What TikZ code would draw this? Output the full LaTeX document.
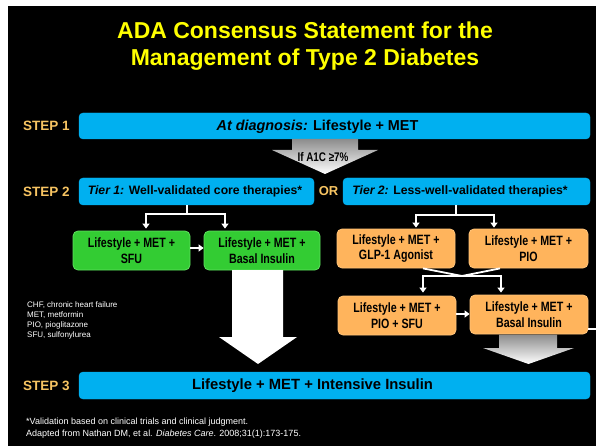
\documentclass[tikz,border=0pt]{standalone}
\usepackage{fontspec}
\setmainfont{Liberation Sans}
\newfontfamily\narrowfont{Liberation Sans}[FakeStretch=0.79]
\usetikzlibrary{arrows.meta,calc}
\definecolor{cyanbar}{HTML}{00B0F0}
\definecolor{greenbox}{HTML}{33CC33}
\definecolor{greenedge}{HTML}{5FE05F}
\definecolor{orangebox}{HTML}{FFB45C}
\definecolor{orangeedge}{HTML}{FFC47A}
\definecolor{steplabel}{HTML}{F7C462}
\definecolor{titleyellow}{HTML}{FFFF00}
\begin{document}
\begin{tikzpicture}[x=1pt,y=-1pt,
  bar/.style={fill=cyanbar,draw=cyanbar,rounded corners=4pt,inner sep=0pt,text=black,font=\bfseries},
  bartext/.style={inner sep=0pt,text=black},
  gbox/.style={fill=greenbox,draw=greenedge,line width=0.8pt,rounded corners=5pt,inner sep=0pt,
     minimum width=116pt,minimum height=39pt,align=center,font=\narrowfont\fontsize{13.5}{15.5}\selectfont\bfseries,text=black},
  obox/.style={fill=orangebox,draw=orangeedge,line width=0.8pt,rounded corners=5pt,inner sep=0pt,
     minimum width=118pt,minimum height=39pt,align=center,font=\narrowfont\fontsize{13.5}{15.5}\selectfont\bfseries,text=black},
  steplbl/.style={anchor=west,text=steplabel,font=\fontsize{13.5}{16}\selectfont\bfseries,inner sep=0pt},
  wline/.style={draw=white,line width=1.8pt},
  warr/.style={draw=white,line width=1.8pt,-{Triangle[width=7pt,length=5pt]}},
  greyarrow/.style={top color=black!45,bottom color=white,draw=none}
]
\useasboundingbox (0,0) rectangle (596,446);
\fill[white] (0,0) rectangle (596,446);
\fill[black] (8,6) rectangle (596,446);

% title
\node[text=titleyellow,align=center,font=\fontsize{23}{27}\selectfont\bfseries] (title) at (305,46)
  {ADA Consensus Statement for the\\Management of Type 2 Diabetes};

% step labels
\node[steplbl] (s1) at (23,126) {STEP 1};
\node[steplbl] (s2) at (23,192) {STEP 2};
\node[steplbl] (s3) at (23,386) {STEP 3};

% bars
\node[bar,minimum width=511pt,minimum height=26pt] (step1) at (334.5,126) {};
\node[bartext,font=\fontsize{14.4}{17}\selectfont\bfseries] (step1txt) at (317.5,126.5)
  {\textit{At diagnosis:} Lifestyle + MET};
\node[bar,minimum width=235pt,minimum height=27pt] (tier1) at (196.5,191.5) {};
\node[bartext,font=\fontsize{12.2}{14}\selectfont\bfseries] (tier1txt) at (195,191.5)
  {\textit{Tier 1:} Well-validated core therapies*};
\node[bar,minimum width=247pt,minimum height=27pt] (tier2) at (466.5,191.5) {};
\node[bartext,font=\fontsize{12.2}{14}\selectfont\bfseries] (tier2txt) at (460,191.5)
  {\textit{Tier 2:} Less-well-validated therapies*};
\node[text=steplabel,font=\fontsize{13}{15}\selectfont\bfseries,inner sep=0pt] (or) at (328.5,191) {OR};
\node[bar,minimum width=511pt,minimum height=27pt] (step3) at (334.5,385.5) {};
\node[bartext,font=\fontsize{14.8}{17}\selectfont\bfseries] (step3txt) at (312.5,386)
  {Lifestyle + MET + Intensive Insulin};

% grey arrow after step 1
\path[greyarrow] (292,139) -- (358,139) -- (358,150) -- (378,150) -- (325,174) -- (272,150) -- (292,150) -- cycle;
\node[font=\narrowfont\fontsize{12.5}{13}\selectfont\bfseries,text=black,inner sep=0pt] (a1c) at (323,157) {If A1C ≥7\%};

% green boxes
\node[gbox,minimum width=117pt] (g1) at (131.5,250.5) {Lifestyle + MET +\\SFU};
\node[gbox] (g2) at (262,250.5) {Lifestyle + MET +\\Basal Insulin};

% orange boxes
\node[obox] (o1) at (396,248.5) {Lifestyle + MET +\\GLP-1 Agonist};
\node[obox,minimum width=119pt] (o2) at (528.5,248.5) {Lifestyle + MET +\\PIO};
\node[obox] (o3) at (397,315.5) {Lifestyle + MET +\\PIO + SFU};
\node[obox] (o4) at (529,314.5) {Lifestyle + MET +\\Basal Insulin};

% tier 1 connectors
\coordinate (t1j) at (187,214);
\draw[wline] (tier1.south -| t1j) -- (t1j);
\draw[warr,shorten >=2pt] (t1j) -| ([xshift=14.5pt]g1.north);
\draw[warr,shorten >=2pt] (t1j) -| ([xshift=-37pt]g2.north);
\draw[warr] (g1.east |- 0,248) -- (g2.west |- 0,248);

% tier 2 connectors
\coordinate (t2j) at (456,215);
\draw[wline] (tier2.south -| t2j) -- (t2j);
\draw[warr,shorten >=1pt] (t2j) -| ([xshift=20pt]o1.north);
\draw[warr,shorten >=1pt] (t2j) -| ([xshift=-34.5pt]o2.north);

% crossing connectors
\coordinate (mid) at (462,276);
\draw[wline] ([xshift=27pt]o1.south) -- (mid);
\draw[wline] ([xshift=-28.5pt]o2.south) -- (mid);
\draw[warr,shorten >=3pt] (mid) -| ([xshift=26pt]o3.north);
\draw[warr,shorten >=2pt] (mid) -| ([xshift=-28pt]o4.north);
\draw[warr] (o3.east |- 0,314) -- (o4.west |- 0,314);
\coordinate (stub) at (596,329);
\draw[wline] ([yshift=-14.5pt]o4.east) -- (stub);

% big white arrow
\fill[white] (232,270) -- (283,270) -- (283,337) -- (297,337) -- (258,364) -- (219,337) -- (232,337) -- cycle;

% grey arrow under orange basal insulin
\path[greyarrow] (499,334.5) -- (557,334.5) -- (557,348) -- (574,348) -- (528.5,364) -- (483,348) -- (499,348) -- cycle;

% abbreviations
\node[anchor=north west,align=left,text=white,font=\fontsize{8}{10}\selectfont,inner sep=0pt] (abbr) at (27,302)
  {CHF, chronic heart failure\\MET, metformin\\PIO, pioglitazone\\SFU, sulfonylurea};

% footnote
\node[anchor=north west,align=left,text=white,font=\fontsize{9}{12}\selectfont,inner sep=0pt] (foot) at (26,418)
  {*Validation based on clinical trials and clinical judgment.\\Adapted from Nathan DM, et al. \textit{Diabetes Care}. 2008;31(1):173-175.};
\end{tikzpicture}
\end{document}
